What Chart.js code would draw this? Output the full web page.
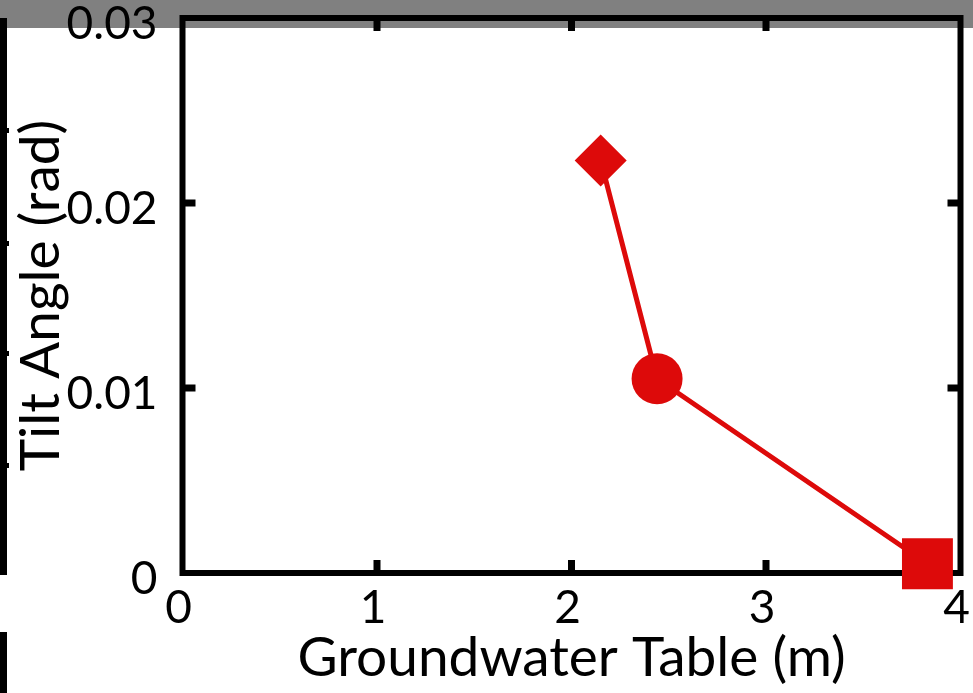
<!DOCTYPE html>
<html>
<head>
<meta charset="utf-8">
<script src="https://cdn.jsdelivr.net/npm/chart.js@4/dist/chart.umd.min.js"></script>
<style>
  html, body { margin: 0; padding: 0; background: #ffffff; }
  #wrap { position: relative; width: 973px; height: 693px; overflow: hidden; }
  #band { position: absolute; left: 0; top: 0; width: 973px; height: 28px; background: #808080; }
  .bar { position: absolute; background: #000; }
  canvas { position: absolute; left: 0; top: 0; }
</style>
</head>
<body>
<div id="wrap">
  <div id="band"></div>
  <div class="bar" style="left:0;top:18px;width:7px;height:557px;"></div>
  <div class="bar" style="left:0;top:632px;width:7px;height:61px;"></div>
  <div class="bar" style="left:0;top:128px;width:9px;height:5px;"></div>
  <div class="bar" style="left:0;top:241px;width:9px;height:5px;"></div>
  <div class="bar" style="left:0;top:351px;width:9px;height:5px;"></div>
  <div class="bar" style="left:0;top:463px;width:9px;height:5px;"></div>
  <canvas id="c" width="973" height="693"></canvas>
</div>
<script>
// ---- data ----
const groundwaterTable = [2.15, 2.44, 3.83];      // m
const tiltAngle        = [0.0223, 0.0105, 0.0005]; // rad
const pointShapes      = ['rectRot', 'circle', 'rect'];
const pointSizes       = [26, 25.5, 36];
const xTickValues = [0, 1, 2, 3, 4];
const xTickLabels = ['0', '1', '2', '3', '4'];
const yTickValues = [0, 0.01, 0.02, 0.03];
const yTickLabels = ['0', '0.01', '0.02', '0.03'];
const xTitle = 'Groundwater Table (m)';
const yTitle = 'Tilt Angle (rad)';

const RED = '#dd0a0a';
const FONT = 'Lato';

const points = groundwaterTable.map((x, i) => ({ x: x, y: tiltAngle[i] }));

const framePlugin = {
  id: 'frame',
  beforeDatasetsDraw(chart) {
    const { ctx, chartArea: a, scales } = chart;
    const xs = scales.x, ys = scales.y;
    ctx.save();
    ctx.strokeStyle = '#000';
    ctx.lineWidth = 6;
    ctx.lineCap = 'square';
    ctx.strokeRect(a.left, a.top, a.right - a.left, a.bottom - a.top);
    ctx.lineCap = 'butt';
    ctx.lineWidth = 7;
    const tl = 13;
    xTickValues.slice(1, -1).forEach(v => {
      const px = xs.getPixelForValue(v);
      ctx.beginPath();
      ctx.moveTo(px, a.bottom); ctx.lineTo(px, a.bottom - tl);
      ctx.moveTo(px, a.top); ctx.lineTo(px, a.top + tl);
      ctx.stroke();
    });
    yTickValues.slice(1, -1).forEach(v => {
      const py = ys.getPixelForValue(v);
      ctx.beginPath();
      ctx.moveTo(a.left, py); ctx.lineTo(a.left + tl, py);
      ctx.moveTo(a.right, py); ctx.lineTo(a.right - tl, py);
      ctx.stroke();
    });
    ctx.restore();
  }
};

new Chart(document.getElementById('c'), {
  type: 'scatter',
  data: {
    datasets: [{
      data: points,
      showLine: true,
      borderColor: RED,
      backgroundColor: RED,
      borderWidth: 5,
      pointStyle: pointShapes,
      pointRadius: pointSizes,
      pointBackgroundColor: RED,
      pointBorderWidth: 0,
      pointHoverRadius: pointSizes,
      tension: 0,
      clip: false
    }]
  },
  options: {
    responsive: false,
    animation: false,
    events: [],
    layout: { autoPadding: false, padding: { top: 18, right: 12.5, left: 0, bottom: 0 } },
    plugins: { legend: { display: false }, tooltip: { enabled: false } },
    scales: {
      x: {
        type: 'linear',
        min: 0, max: 4,
        grid: { display: false, drawTicks: false, tickLength: 0 },
        border: { display: false },
        afterBuildTicks: s => { s.ticks = xTickValues.map(v => ({ value: v })); },
        ticks: {
          color: '#000',
          font: { family: FONT, size: 46 },
          padding: 8,
          labelOffset: -4,
          maxRotation: 0,
          autoSkip: false,
          callback: (v, i) => xTickLabels[i]
        },
        title: {
          display: true, text: xTitle, color: '#000',
          font: { family: FONT, size: 55 },
          padding: { top: 2, bottom: 2 }
        },
        afterFit: s => { s.height = 120; s.paddingLeft = 0; s.paddingRight = 0; }
      },
      y: {
        type: 'linear',
        min: 0, max: 0.03,
        grid: { display: false, drawTicks: false, tickLength: 0 },
        border: { display: false },
        afterBuildTicks: s => { s.ticks = yTickValues.map(v => ({ value: v })); },
        ticks: {
          color: '#000',
          font: { family: FONT, size: 46 },
          padding: 25,
          labelOffset: 6,
          autoSkip: false,
          callback: (v, i) => yTickLabels[i]
        },
        title: {
          display: true, text: yTitle, color: '#000',
          font: { family: FONT, size: 55 },
          padding: { top: 8, bottom: 8 }
        },
        afterFit: s => { s.width = 182.5; s.paddingTop = 0; s.paddingBottom = 0; }
      }
    }
  },
  plugins: [framePlugin]
});
</script>
</body>
</html>
